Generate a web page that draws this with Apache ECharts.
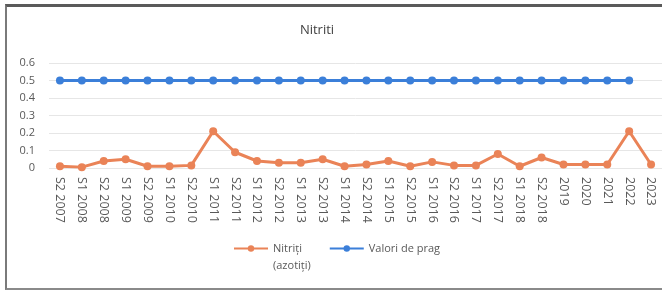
<!DOCTYPE html>
<html>
<head>
<meta charset="utf-8">
<script src="https://cdn.jsdelivr.net/npm/echarts@6/dist/echarts.min.js"></script>
<style>
  html, body { margin: 0; padding: 0; background: #fff; }
  #frame { position: absolute; left: 5px; top: 4px; width: 662px; height: 281px;
           border-top: 3px solid #5a5a5a; border-left: 2px solid #7a7a7a; border-bottom: 2px solid #8a8a8a; }
  #chart { position: absolute; left: 0; top: 0; width: 662px; height: 290px; }
</style>
</head>
<body>
<div id="frame"></div>
<div id="chart"></div>
<script>
  // categorii (semestre / ani)
  const categories = [
    'S2 2007', 'S1 2008', 'S2 2008', 'S1 2009', 'S2 2009', 'S1 2010', 'S2 2010',
    'S1 2011', 'S2 2011', 'S1 2012', 'S2 2012', 'S1 2013', 'S2 2013', 'S1 2014',
    'S2 2014', 'S1 2015', 'S2 2015', 'S1 2016', 'S2 2016', 'S1 2017', 'S2 2017',
    'S1 2018', 'S2 2018', '2019', '2020', '2021', '2022', '2023'
  ];
  const nitriti = [
    0.01, 0.005, 0.04, 0.05, 0.01, 0.01, 0.015,
    0.21, 0.09, 0.04, 0.03, 0.03, 0.05, 0.01,
    0.02, 0.04, 0.01, 0.035, 0.015, 0.015, 0.08,
    0.01, 0.06, 0.02, 0.02, 0.02, 0.21, 0.02
  ];
  const valoriPrag = [
    0.5, 0.5, 0.5, 0.5, 0.5, 0.5, 0.5,
    0.5, 0.5, 0.5, 0.5, 0.5, 0.5, 0.5,
    0.5, 0.5, 0.5, 0.5, 0.5, 0.5, 0.5,
    0.5, 0.5, 0.5, 0.5, 0.5, 0.5, null
  ];
  const yTicks = { min: 0, max: 0.6, interval: 0.1 };

  const chart = echarts.init(document.getElementById('chart'));
  const txt = '#595959';
  const option = {
    textStyle: { fontFamily: 'Open Sans' },
    title: {
      text: 'Nitriti',
      left: 312, top: 19,
      textAlign: 'center',
      textStyle: { fontSize: 13, fontWeight: 'normal', color: '#404040' }
    },
    legend: {
      top: 223, left: 233, padding: 0,
      itemWidth: 34, itemHeight: 8, itemGap: 18,
      textStyle: { fontSize: 11, color: txt, lineHeight: 17 },
      // linie goala sus, ca marcajul sa stea pe primul rand
      formatter: name => name === 'Nitriți (azotiți)' ? ' \nNitriți\n(azotiți)' : ' \n' + name + '\n ',
      data: ['Nitriți (azotiți)', 'Valori de prag']
    },
    grid: { left: 49, right: 0, top: 63, bottom: 122 },
    xAxis: {
      type: 'category',
      data: categories,
      axisLine: { show: false },
      axisTick: { show: false },
      axisLabel: { rotate: -90, fontSize: 12.5, color: txt, interval: 0, margin: 9 }
    },
    yAxis: {
      type: 'value',
      min: yTicks.min, max: yTicks.max, interval: yTicks.interval,
      axisLabel: { fontSize: 11, color: txt, margin: 14,
        formatter: v => (v === 0 ? '0' : String(Math.round(v * 10) / 10)) },
      splitLine: { lineStyle: { color: '#e6e6e6' } }
    },
    series: [{
      name: 'Nitriți (azotiți)',
      type: 'line',
      data: nitriti,
      symbol: 'circle', symbolSize: 8,
      itemStyle: { color: '#ea8357' },
      lineStyle: { width: 3, color: '#ea8357' }
    }, {
      name: 'Valori de prag',
      type: 'line',
      data: valoriPrag,
      symbol: 'circle', symbolSize: 8,
      itemStyle: { color: '#3b7fd9' },
      lineStyle: { width: 3, color: '#3b7fd9' }
    }]
  };
  chart.setOption(option);
</script>
</body>
</html>
